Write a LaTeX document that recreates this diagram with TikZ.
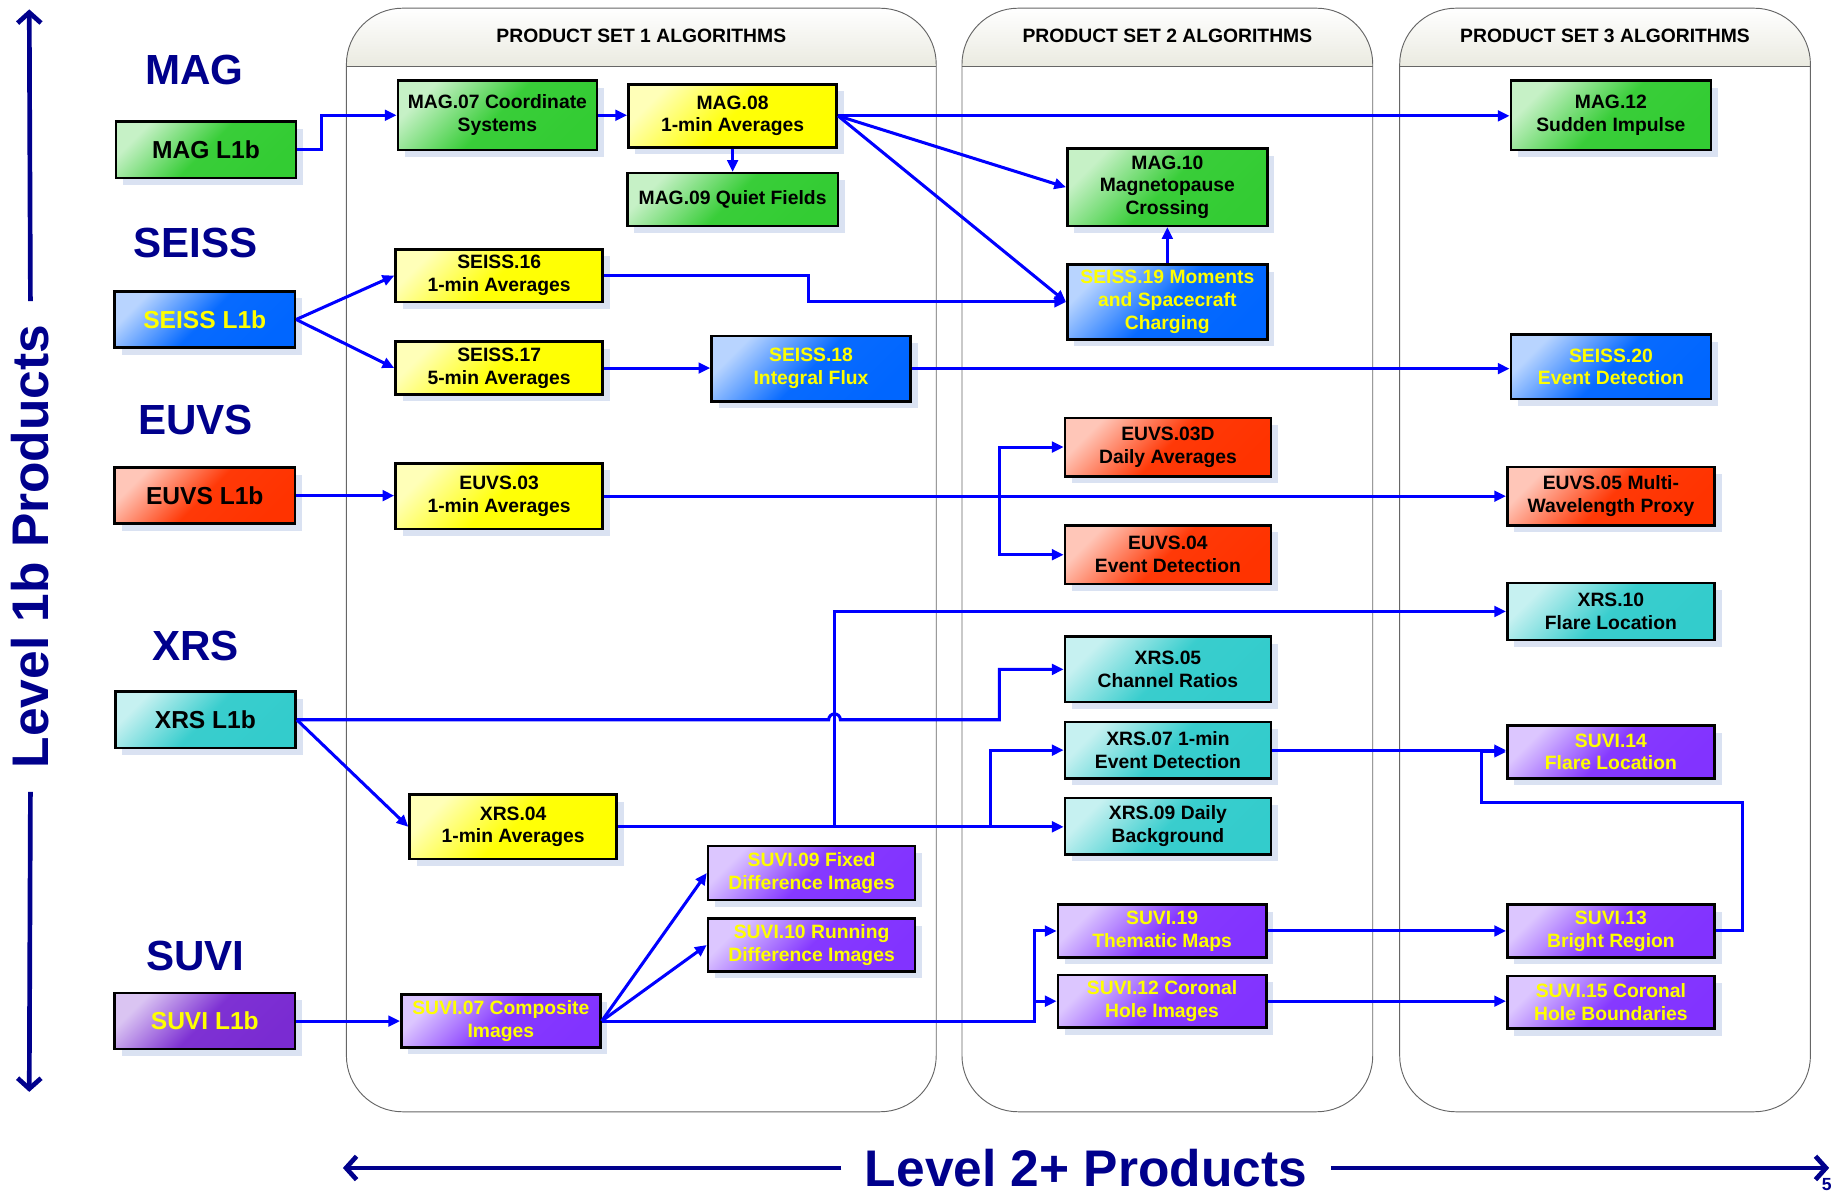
\documentclass[tikz,border=0pt]{standalone}
\usepackage{fontspec}
\setmainfont{Liberation Sans}
\usepackage{tikz}
\usetikzlibrary{arrows.meta, positioning, calc, shadows}
\definecolor{cGreen}{RGB}{51,204,51}
\definecolor{cYellow}{RGB}{255,255,0}
\definecolor{cBlue}{RGB}{0,102,255}
\definecolor{cRed}{RGB}{255,51,0}
\definecolor{cTeal}{RGB}{51,204,204}
\definecolor{cPurple}{RGB}{130,51,255}
\definecolor{cPurpleD}{RGB}{122,43,210}
\definecolor{cNavy}{RGB}{0,0,140}
\definecolor{cWire}{RGB}{0,0,255}
\definecolor{cShadow}{RGB}{218,226,242}
\definecolor{cHeader}{RGB}{234,234,224}
\tikzset{
	alg/.style     ={rectangle, draw=black, line width=2.2pt, inner sep=0pt, align=center, minimum width=177pt, minimum height=45pt, font=\fontsize{16.5}{19.5}\selectfont\bfseries, drop shadow={shadow xshift=6pt, shadow yshift=-6pt, fill=cShadow, opacity=1}},
	tint/.style    ={top color=#1!28, bottom color=#1, middle color=#1!97, shading angle=45},
	l1b/.style     ={alg, minimum width=154pt, minimum height=48pt, font=\fontsize{21}{24}\selectfont\bfseries},
	inst/.style    ={font=\fontsize{36}{40}\selectfont\bfseries, text=cNavy},
	% panel styles
	panel/.style   ={draw=black!60, line width=0.8pt, rounded corners=48pt},
	hdr/.style     ={font=\fontsize{16.5}{20}\selectfont\bfseries},
	% connector styles
	flow/.style    ={draw=cWire, line width=2.6pt, -{Triangle[length=10pt, width=9pt]}},
	lvlarrow/.style={draw=cNavy, line width=4pt, -{Straight Barb[length=9pt, width=20pt]}},
	lvllbl/.style  ={font=\fontsize{44}{48}\selectfont\bfseries, text=cNavy, inner xsep=20pt, inner ysep=0pt},
}

\begin{document}
\begin{tikzpicture}[x=1pt, y=1pt]
	\useasboundingbox (0,0) rectangle (1568,-1021);
	% algorithm panels
	\foreach \xa/\xb/\n in {296/800/1, 822/1173/2, 1196/1547/3}{
		\begin{scope}
			\clip[rounded corners=48pt] (\xa,-7) rectangle (\xb,-950);
			\shade[top color=white, bottom color=cHeader] (\xa,-7) rectangle (\xb,-57);
		\end{scope}
		\draw[panel] (\xa,-7) rectangle (\xb,-950);
		\draw[draw=black!60, line width=0.8pt] (\xa,-57) -- (\xb,-57);
		\node[hdr] (hdr\n) at ({(\xa+\xb)/2},-31) {PRODUCT SET \n\ ALGORITHMS};
	}
	% instruments
	\node[inst] (magT) at (166,-60) {MAG};
	\node[inst] (seissT) at (167,-208) {SEISS};
	\node[inst] (euvsT) at (167,-359) {EUVS};
	\node[inst] (xrsT) at (167,-552) {XRS};
	\node[inst] (suviT) at (167,-817) {SUVI};
	\node[l1b, tint=cGreen] (magL) at (176,-128) {MAG L1b};
	\node[l1b, tint=cBlue, text=cYellow] (seissL) at (175,-273) {SEISS L1b};
	\node[l1b, tint=cRed] (euvsL) at (175,-423.5) {EUVS L1b};
	\node[l1b, tint=cTeal] (xrsL) at (175.5,-615) {XRS L1b};
	\node[l1b, tint=cPurpleD, text=cYellow] (suviL) at (175,-872.5) {SUVI L1b};
	% product set 1
	\node[alg, tint=cGreen, minimum width=170pt, minimum height=59pt] (mag07) at (425,-98.5) {MAG.07 Coordinate\\Systems};
	\node[alg, tint=cYellow, minimum width=178pt, minimum height=54pt] (mag08) at (626,-99) {MAG.08\\1-min Averages};
	\node[alg, tint=cGreen, minimum width=180pt] (mag09) at (626,-170.5) {MAG.09 Quiet Fields};
	\node[alg, tint=cYellow] (seiss16) at (426.5,-235.5) {SEISS.16\\1-min Averages};
	\node[alg, tint=cYellow] (seiss17) at (426.5,-314.5) {SEISS.17\\5-min Averages};
	\node[alg, tint=cBlue, text=cYellow, minimum width=170pt, minimum height=56pt] (seiss18) at (693,-315) {SEISS.18\\Integral Flux};
	\node[alg, tint=cYellow, minimum height=56pt] (euvs03) at (426.5,-424) {EUVS.03\\1-min Averages};
	\node[alg, tint=cYellow, minimum height=55pt] (xrs04) at (438.5,-706.5) {XRS.04\\1-min Averages};
	\node[alg, tint=cPurple, text=cYellow, minimum height=46pt] (suvi09) at (693.5,-746) {SUVI.09 Fixed\\Difference Images};
	\node[alg, tint=cPurple, text=cYellow] (suvi10) at (693.5,-807.5) {SUVI.10 Running\\Difference Images};
	\node[alg, tint=cPurple, text=cYellow, minimum width=170pt] (suvi07) at (428,-872.5) {SUVI.07 Composite\\Images};
	% product set 2
	\node[alg, tint=cGreen, minimum width=171pt, minimum height=66pt] (mag10) at (997.5,-160) {MAG.10\\Magnetopause\\Crossing};
	\node[alg, tint=cBlue, text=cYellow, minimum width=171pt, minimum height=64pt] (seiss19) at (997.5,-258) {SEISS.19 Moments\\and Spacecraft\\Charging};
	\node[alg, tint=cRed, minimum width=176pt, minimum height=50pt] (euvs03d) at (998,-382) {EUVS.03D\\Daily Averages};
	\node[alg, tint=cRed, minimum width=176pt, minimum height=50pt] (euvs04) at (998,-474) {EUVS.04\\Event Detection};
	\node[alg, tint=cTeal, minimum width=176pt, minimum height=56pt] (xrs05) at (998,-572) {XRS.05\\Channel Ratios};
	\node[alg, tint=cTeal, minimum width=176pt, minimum height=48pt] (xrs07) at (998,-641) {XRS.07 1-min\\Event Detection};
	\node[alg, tint=cTeal, minimum width=176pt, minimum height=48pt] (xrs09) at (998,-706) {XRS.09 Daily\\Background};
	\node[alg, tint=cPurple, text=cYellow, minimum width=178pt] (suvi19) at (993,-795.5) {SUVI.19\\Thematic Maps};
	\node[alg, tint=cPurple, text=cYellow, minimum width=178pt] (suvi12) at (993,-855.5) {SUVI.12 Coronal\\Hole Images};
	% product set 3
	\node[alg, tint=cGreen, minimum width=171pt, minimum height=59pt] (mag12) at (1376.5,-98.5) {MAG.12\\Sudden Impulse};
	\node[alg, tint=cBlue, text=cYellow, minimum width=171pt, minimum height=55pt] (seiss20) at (1376.5,-313.5) {SEISS.20\\Event Detection};
	\node[alg, tint=cRed, minimum height=50pt] (euvs05) at (1376.5,-424) {EUVS.05 Multi-\\Wavelength Proxy};
	\node[alg, tint=cTeal, minimum height=49pt] (xrs10) at (1376.5,-522.5) {XRS.10\\Flare Location};
	\node[alg, tint=cPurple, text=cYellow] (suvi14) at (1376.5,-642.5) {SUVI.14\\Flare Location};
	\node[alg, tint=cPurple, text=cYellow] (suvi13) at (1376.5,-795.5) {SUVI.13\\Bright Region};
	\node[alg, tint=cPurple, text=cYellow] (suvi15) at (1376.5,-856.5) {SUVI.15 Coronal\\Hole Boundaries};
	% branch points
	\coordinate (eSplit) at ($(euvs03d.west |- euvs03.east)+(-55,0)$);
	\coordinate (xSplitA) at ($(xrs04.east)+(185,0)$);
	\coordinate (xSplitB) at ($(xrs04.east)+(318,0)$);
	\coordinate (sSplit) at ($(suvi07.east)+(370,0)$);
	% MAG
	\draw[flow] (magL.east) -- ++(21,0) |- (mag07.west);
	\draw[flow] (mag07.east) -- (mag07.east -| mag08.west);
	\draw[flow] (mag08.south) -- (mag09.north);
	\draw[flow] (mag08.east) -- (mag08.east -| mag12.west);
	\draw[flow] (mag08.east) -- (mag10.west);
	\draw[flow] (mag08.east) -- (seiss19.west);
	% SEISS
	\draw[flow] (seissL.east) -- (seiss16.west);
	\draw[flow] (seissL.east) -- (seiss17.west);
	\draw[flow] (seiss16.east) -- ++(175,0) |- (seiss19.west);
	\draw[flow] (seiss17.east) -- (seiss17.east -| seiss18.west);
	\draw[flow] (seiss18.east) -- (seiss18.east -| seiss20.west);
	\draw[flow] (seiss19.north) -- (mag10.south);
	% EUVS
	\draw[flow] (euvsL.east) -- (euvsL.east -| euvs03.west);
	\draw[flow] (euvs03.east) -- (euvs03.east -| euvs05.west);
	\draw[flow] (eSplit) |- (euvs03d.west);
	\draw[flow] (eSplit) |- (euvs04.west);
	% XRS
	\draw[flow] (xrsL.east) -- ($(xrsL.east -| xSplitA)+(-5,0)$) arc[start angle=180, end angle=0, radius=5pt] -- ($(xrsL.east -| xrs05.west)+(-55,0)$) |- (xrs05.west);
	\draw[flow] (xrsL.east) -- (xrs04.west);
	\draw[flow] (xrs04.east) -- (xSplitA) |- (xrs10.west);
	\draw[flow] (xrs04.east) -- (xSplitB) |- (xrs07.west);
	\draw[flow] (xrs04.east) -- (xrs04.east -| xrs09.west);
	\draw[flow] (xrs07.east) -- (xrs07.east -| suvi14.west);
	% SUVI
	\draw[flow] (suviL.east) -- (suviL.east -| suvi07.west);
	\draw[flow] (suvi07.east) -- (suvi09.west);
	\draw[flow] (suvi07.east) -- (suvi10.west);
	\draw[flow] (suvi07.east) -- (sSplit) |- (suvi19.west);
	\draw[flow] (sSplit) |- (suvi12.west);
	\draw[flow] (suvi19.east) -- (suvi19.east -| suvi13.west);
	\draw[flow] (suvi12.east) -- (suvi12.east -| suvi15.west);
	\draw[flow] (suvi13.east) -- ++(23,0) -- ++(0,110) -| ([xshift=-21pt]suvi14.west) -- (suvi14.west);
	% level axes
	\node[lvllbl, rotate=90] (lvl1) at (26,-467) {Level 1b Products};
	\coordinate (lvl1Top) at (25,-8);
	\coordinate (lvl1Bot) at (25,-933);
	\draw[lvlarrow] (lvl1.east) -- (lvl1Top);
	\draw[lvlarrow] (lvl1.west) -- (lvl1Bot);
	\node[lvllbl] (lvl2) at (928,-998) {Level 2+ Products};
	\coordinate (lvl2Left) at (293,-998);
	\coordinate (lvl2Right) at (1563,-998);
	\draw[lvlarrow] (lvl2.west) -- (lvl2Left);
	\draw[lvlarrow] (lvl2.east) -- (lvl2Right);
	\node[font=\fontsize{15}{15}\selectfont\bfseries, text=cNavy] (pgno) at (1561,-1012) {5};
\end{tikzpicture}
\end{document}
